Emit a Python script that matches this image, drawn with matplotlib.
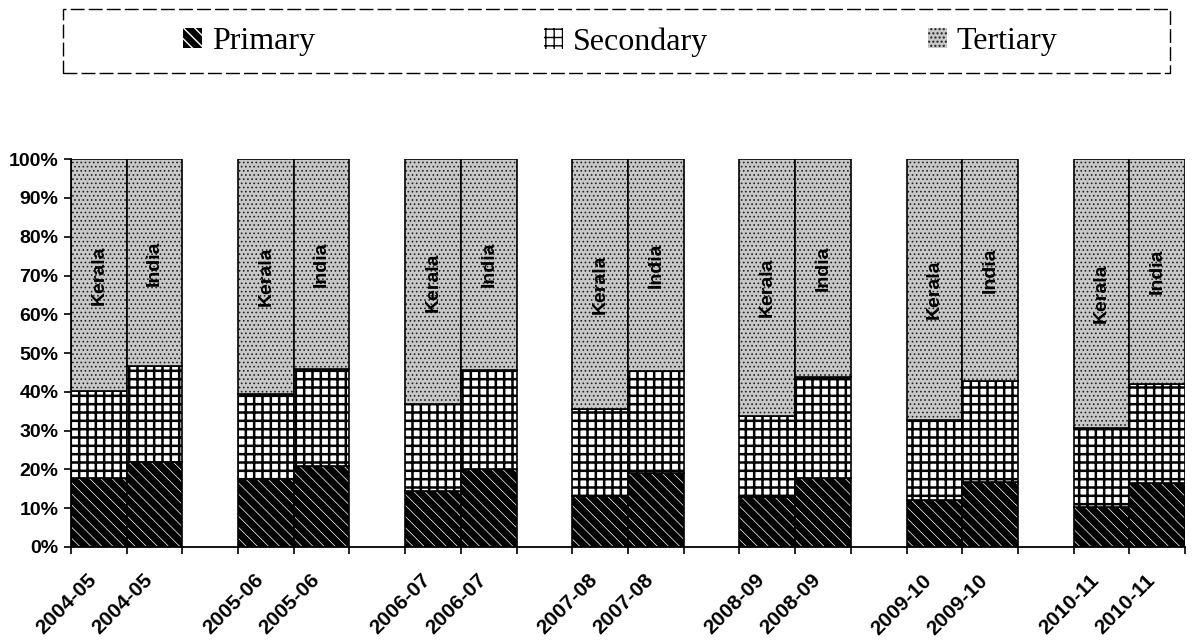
import matplotlib
matplotlib.use('Agg')
import matplotlib.pyplot as plt
import matplotlib.transforms as mtransforms
from matplotlib.patches import Patch, Rectangle
import numpy as np

plt.rcParams['font.family'] = ['Liberation Sans', 'DejaVu Sans']

# shares of GSDP / GDP by sector (%)
years = ['2004-05', '2005-06', '2006-07', '2007-08', '2008-09', '2009-10', '2010-11']
regions = ['Kerala', 'India']
sectors = ['Primary', 'Secondary', 'Tertiary']

kerala_primary = [17.9, 17.5, 14.5, 13.2, 12.8, 12.0, 10.3]
kerala_secondary = [22.3, 22.0, 22.3, 22.5, 21.0, 20.7, 20.5]
kerala_tertiary = [59.8, 60.5, 63.2, 64.3, 66.2, 67.3, 69.2]

india_primary = [21.8, 20.9, 20.1, 19.2, 17.9, 16.7, 16.4]
india_secondary = [24.8, 25.1, 25.6, 26.3, 25.9, 26.0, 25.7]
india_tertiary = [53.4, 54.0, 54.3, 54.5, 56.2, 57.3, 57.9]

# look of each sector: face, hatch colour, hatch, hatch linewidth
styles = {
    'Primary': ('black', 'white', '\\\\\\', 0.5),
    'Secondary': ('white', 'black', '++', 1.8),
    'Tertiary': ('#c8c8c8', '#222222', '....', 0.7),
}

fig = plt.figure(figsize=(12.02, 6.42), dpi=100)
ax = fig.add_axes([0.059, 0.148, 0.927, 0.604])


def stack(x, parts, label):
    bottom = 0
    for name, val in zip(sectors, parts):
        face, hcol, hatch, hlw = styles[name]
        bars = ax.bar(x, val, bottom=bottom, width=1.0, color=face,
                      edgecolor=hcol, hatch=hatch, linewidth=0)
        for b in bars:
            if hasattr(b, 'set_hatch_linewidth'):
                b.set_hatch_linewidth(hlw)
        ax.bar(x, val, bottom=bottom, width=1.0, fill=False,
               edgecolor='black', linewidth=1.2)
        if name == 'Tertiary':
            ax.text(x, bottom + val / 2, label, rotation=90, ha='center',
                    va='center', fontsize=14, fontweight='bold')
        bottom += val


tick_pos = []
tick_lab = []
for i, yr in enumerate(years):
    xk = 3 * i
    xi = 3 * i + 1
    stack(xk, [kerala_primary[i], kerala_secondary[i], kerala_tertiary[i]], regions[0])
    stack(xi, [india_primary[i], india_secondary[i], india_tertiary[i]], regions[1])
    tick_pos += [xk, xi]
    tick_lab += [yr, yr]

ax.set_xlim(-0.5, 19.5)
ax.set_ylim(0, 100)
ax.set_yticks(range(0, 101, 10))
ax.set_yticklabels([f'{v}%' for v in range(0, 101, 10)], fontsize=14, fontweight='bold')
ax.set_xticks(tick_pos)
ax.set_xticklabels(tick_lab, rotation=45, ha='right', rotation_mode='anchor',
                   fontsize=15, fontweight='bold')
ax.set_xticks(np.arange(-0.5, 20, 1), minor=True)
ax.tick_params(axis='x', which='major', length=0, pad=17)
ax.tick_params(axis='x', which='minor', length=5, width=1.2, direction='out')
ax.tick_params(axis='y', length=5, width=1.2, direction='out', pad=4)
# nudge the slanted year labels a little to the left, as in the original
shift = mtransforms.ScaledTranslation(-12 / 100, 0, fig.dpi_scale_trans)
for t in ax.get_xticklabels():
    t.set_transform(t.get_transform() + shift)
for s in ['top', 'right']:
    ax.spines[s].set_visible(False)
for s in ['left', 'bottom']:
    ax.spines[s].set_linewidth(1.3)

# legend box across the top
fig.patches.append(Rectangle((63 / 1202, 1 - 73 / 642), (1170 - 63) / 1202, 64 / 642,
                             transform=fig.transFigure, fill=False,
                             edgecolor='black', linewidth=1.0, linestyle=(0, (10, 3))))
for name, xpx in zip(sectors, [183, 544, 928]):
    face, hcol, hatch, hlw = styles[name]
    h = Patch(facecolor=face, edgecolor=hcol, hatch=hatch, linewidth=0)
    fig.legend(handles=[h], labels=[name], loc='center left',
               bbox_to_anchor=(xpx / 1202, 1 - 42 / 642), frameon=False,
               borderpad=0, borderaxespad=0, handlelength=0.6, handleheight=0.6,
               handletextpad=0.3, prop={'family': 'Liberation Serif', 'size': 23})

fig.savefig('out.png', dpi=100)
